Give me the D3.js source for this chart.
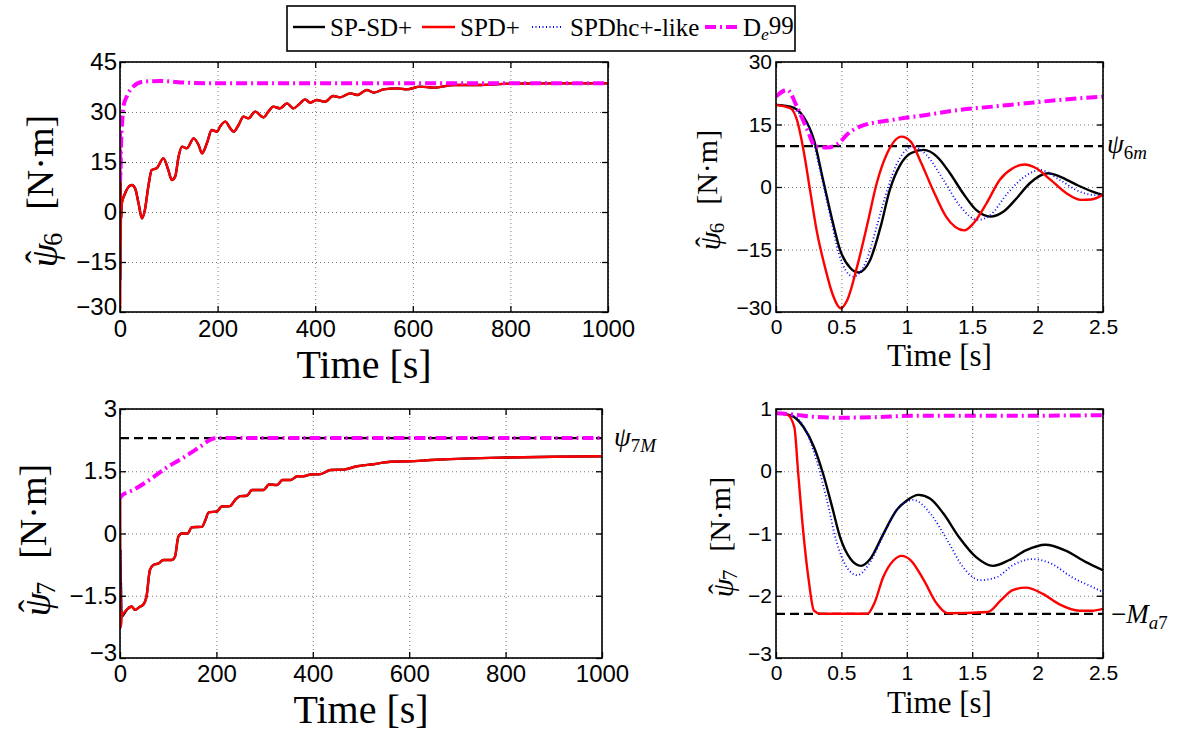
<!DOCTYPE html>
<html>
<head>
<meta charset="utf-8">
<script src="https://cdn.jsdelivr.net/npm/d3@7"></script>
<style>
  body { margin: 0; background: #fff; }
  svg { display: block; }
</style>
</head>
<body>
<div id="chart"></div>
<script>
// DATA ------------------------------------
// [time, value] pairs

// psi6, short window (0..2.5 s)
const psi6ShortBlack = [[0,19.7],[0.11,19.3],[0.21,16.9],[0.29,11.3],[0.36,1.7],[0.43,-7.9],[0.49,-15.1],[0.57,-19.5],[0.63,-20.5],[0.72,-17.5],[0.8,-9.5],[0.87,-0.7],[0.95,5.3],[1.03,8.1],[1.13,8.9],[1.23,7.3],[1.33,3.3],[1.43,-1.5],[1.53,-5.5],[1.64,-7.1],[1.74,-5.9],[1.84,-2.7],[1.94,0.9],[2.08,3.3],[2.17,2.5],[2.3,0.5],[2.42,-1.1],[2.5,-1.9]];
const psi6ShortRed = [[0,19.7],[0.11,18.9],[0.16,16.1],[0.21,8.9],[0.26,-0.7],[0.31,-10.3],[0.38,-19.9],[0.43,-25.5],[0.495,-29.1],[0.545,-27.1],[0.62,-19.1],[0.7,-8.7],[0.77,0.9],[0.85,8.1],[0.96,12.1],[1.03,10.9],[1.1,6.5],[1.2,-0.7],[1.3,-7.1],[1.44,-10.4],[1.51,-8.7],[1.61,-3.9],[1.71,1.7],[1.81,4.5],[1.9,5.4],[1.99,4.5],[2.1,1.7],[2.22,-1.5],[2.33,-3.1],[2.41,-3.0],[2.5,-1.9]];
const psi6ShortBlue = [[0,19.7],[0.11,19],[0.26,13.7],[0.33,4.9],[0.41,-6.3],[0.48,-15.9],[0.59,-21.5],[0.69,-17.8],[0.77,-9.5],[0.85,-0.7],[0.92,5.3],[1.05,9.7],[1.15,7.7],[1.28,1.7],[1.41,-4.7],[1.54,-7.9],[1.64,-6.7],[1.77,-1.5],[1.92,2.9],[2.02,4.1],[2.17,1.7],[2.32,-1.1],[2.42,-1.9],[2.5,-2]];
const psi6ShortMag = [[0,21.7],[0.085,23.3],[0.16,19.3],[0.24,13.7],[0.3,9.8],[0.39,9.5],[0.48,10.5],[0.54,12.5],[0.64,14.5],[0.89,16.1],[1.15,17.3],[1.4,18.5],[1.66,19.3],[1.91,20.1],[2.17,20.9],[2.5,21.7]];

// psi6, long run (0..1000 s): slow part shared by the three controllers
const psi6Slow = [[3.5,2.5],[9,5.1],[24,8.1],[31,7.1],[38,2.6],[45,-1.9],[51,0.6],[58,7.6],[65,12.6],[75,13.1],[89,16.1],[99,12.6],[106,9.6],[113,10.6],[120,16.6],[127,19.6],[137,19.1],[151,22.1],[161,20.1],[168,17.6],[178,20.6],[188,24.6],[199,24.1],[205,25.6],[216,27.1],[226,25.1],[233,24.1],[243,26.1],[253,28.6],[263,28.1],[277,30.1],[294,28.4],[304,30.1],[314,31.6],[328,31.1],[342,32.6],[355,31.1],[369,32.6],[379,33.8],[390,32.8],[403,33.6],[420,33.1],[437,34.8],[451,34.4],[472,35.6],[486,35.1],[506,36.6],[520,35.8],[540,36.8],[568,37.1],[588,36.8],[615,37.6],[643,37.3],[684,38.1],[732,38.1],[800,38.5],[889,38.6],[1000,38.6]];
const psi6LongMag = [[0,21.7],[0.085,23.3],[0.39,9.5],[2.5,21.7],[4,26],[7,31.6],[15,35],[27,37.6],[48,39.1],[82,39.3],[137,38.8],[200,38.6],[400,38.6],[1000,38.6]];
const psi6m = 9.8;

// psi7, short window (0..2.5 s)
const psi7ShortBlack = [[0,0.93],[0.11,0.9],[0.21,0.71],[0.29,0.39],[0.36,-0.04],[0.43,-0.58],[0.49,-1.06],[0.57,-1.41],[0.65,-1.52],[0.72,-1.41],[0.82,-1.01],[0.92,-0.63],[1.0,-0.47],[1.09,-0.38],[1.18,-0.44],[1.28,-0.68],[1.4,-1.06],[1.53,-1.38],[1.66,-1.52],[1.78,-1.43],[1.91,-1.27],[2.06,-1.18],[2.21,-1.27],[2.37,-1.46],[2.5,-1.59]];
const psi7ShortBlue = [[0,0.93],[0.14,0.88],[0.24,0.6],[0.31,0.17],[0.39,-0.47],[0.46,-1.11],[0.54,-1.54],[0.62,-1.67],[0.72,-1.46],[0.82,-1.03],[0.92,-0.63],[1.05,-0.46],[1.18,-0.68],[1.31,-1.11],[1.43,-1.54],[1.56,-1.75],[1.69,-1.7],[1.81,-1.51],[1.96,-1.41],[2.11,-1.49],[2.26,-1.7],[2.42,-1.86],[2.5,-1.94]];
const psi7ShortRed = [[0,0.93],[0.085,0.91],[0.14,0.71],[0.17,-0.04],[0.21,-1.01],[0.25,-1.75],[0.29,-2.24],[0.34,-2.29],[0.7,-2.29],[0.75,-2.13],[0.82,-1.7],[0.9,-1.43],[0.96,-1.36],[1.03,-1.43],[1.13,-1.75],[1.23,-2.13],[1.31,-2.28],[1.62,-2.26],[1.72,-2.07],[1.81,-1.91],[1.91,-1.87],[2.04,-1.97],[2.16,-2.13],[2.32,-2.24],[2.42,-2.24],[2.5,-2.21]];
const psi7ShortMag = [[0,0.93],[0.14,0.91],[0.26,0.88],[0.46,0.86],[0.77,0.87],[1.03,0.89],[1.66,0.89],[2.5,0.9]];

// psi7, long run (0..1000 s)
const psi7Slow = [[3.5,-2.0],[14,-1.84],[24,-1.76],[31,-1.84],[42,-1.76],[48,-1.72],[55,-1.52],[62,-0.88],[69,-0.76],[80,-0.72],[90,-0.64],[107,-0.64],[114,-0.56],[121,-0.08],[128,0],[140,0.0],[149,0.15],[170,0.16],[177,0.32],[184,0.51],[201,0.53],[211,0.65],[228,0.66],[239,0.81],[249,0.9],[263,0.91],[274,1.05],[298,1.05],[309,1.18],[326,1.17],[337,1.29],[354,1.29],[368,1.38],[381,1.38],[395,1.42],[416,1.43],[437,1.53],[464,1.54],[492,1.62],[526,1.67],[561,1.73],[601,1.74],[645,1.77],[728,1.81],[800,1.83],[901,1.85],[1000,1.86]];
const psi7LongMag = [[0,0.93],[0.5,0.86],[2.5,0.9],[28,1.05],[62,1.3],[97,1.59],[132,1.83],[166,2.09],[194,2.29],[205,2.3],[1000,2.3]];
const psi7M = 2.3;
const Ma7 = 2.29;

// ticks
const longTimeTicks = [0, 200, 400, 600, 800, 1000];
const shortTimeTicks = [0, 0.5, 1, 1.5, 2, 2.5];
const psi6LongTicks = [-30, -15, 0, 15, 30, 45];
const psi6ShortTicks = [-30, -15, 0, 15, 30];
const psi7LongTicks = [-3, -1.5, 0, 1.5, 3];
const psi7ShortTicks = [-3, -2, -1, 0, 1];

const legendNames = ["SP-SD+", "SPD+", "SPDhc+-like", "De99"];

// STYLES ----------------------------------
const styles = {
  black: {stroke: "#000", width: 2.4, dash: null},
  red: {stroke: "#ff0000", width: 2.4, dash: null},
  blue: {stroke: "#0000ff", width: 1.8, dash: "1,2.5"},
  mag: {stroke: "#ff00ff", width: 4, dash: "11,4,2,4"}
};
const serif = "'Liberation Serif', 'Times New Roman', serif";
const sans = "'Liberation Sans', Arial, sans-serif";
const fmt = d3.format("~g");

const svg = d3.select('#chart').append('svg')
  .attr('width', 1189)
  .attr('height', 736);

let clipId = 0;

// PANEL -----------------------------------
function drawPanel(p) {
  const g = svg.append('g');
  const x = d3.scaleLinear().domain(p.xDomain).range([p.left, p.right]);
  const y = d3.scaleLinear().domain(p.yDomain).range([p.bottom, p.top]);
  const w = p.right - p.left, h = p.bottom - p.top;

  g.append('rect')
    .attr('x', p.left).attr('y', p.top).attr('width', w).attr('height', h)
    .attr('fill', '#fff');

  // grid
  const gridX = g.append('g')
    .attr('transform', `translate(0,${p.bottom})`)
    .call(d3.axisBottom(x).tickValues(p.xTicks).tickSize(-h).tickFormat(''));
  const gridY = g.append('g')
    .attr('transform', `translate(${p.left},0)`)
    .call(d3.axisLeft(y).tickValues(p.yTicks).tickSize(-w).tickFormat(''));
  [gridX, gridY].forEach(a => {
    a.select('.domain').remove();
    a.selectAll('line')
      .attr('stroke', '#777')
      .attr('stroke-width', 1)
      .attr('stroke-dasharray', '1,3');
  });

  // curves
  const id = 'clip' + (clipId++);
  svg.append('clipPath').attr('id', id)
    .append('rect').attr('x', p.left).attr('y', p.top).attr('width', w).attr('height', h);
  const plot = g.append('g').attr('clip-path', `url(#${id})`);

  const line = d3.line()
    .x(d => x(d[0]))
    .y(d => y(d[1]))
    .curve(d3.curveMonotoneX);

  (p.refs || []).forEach(v => {
    plot.append('path')
      .datum([[p.xDomain[0], v], [p.xDomain[1], v]])
      .attr('d', d3.line().x(d => x(d[0])).y(d => y(d[1])))
      .attr('fill', 'none')
      .attr('stroke', '#000')
      .attr('stroke-width', 2.2)
      .attr('stroke-dasharray', '9,5');
  });

  p.series.forEach(s => {
    const st = styles[s.style];
    plot.append('path')
      .datum(s.data)
      .attr('d', line)
      .attr('fill', 'none')
      .attr('stroke', st.stroke)
      .attr('stroke-width', st.width)
      .attr('stroke-dasharray', st.dash);
  });

  // inner ticks on all four sides
  const tickAxes = [
    [d3.axisBottom(x).tickValues(p.xTicks), `translate(0,${p.bottom})`],
    [d3.axisTop(x).tickValues(p.xTicks), `translate(0,${p.top})`],
    [d3.axisLeft(y).tickValues(p.yTicks), `translate(${p.left},0)`],
    [d3.axisRight(y).tickValues(p.yTicks), `translate(${p.right},0)`]
  ];
  tickAxes.forEach(([ax, tr]) => {
    const a = g.append('g').attr('transform', tr)
      .call(ax.tickSize(-6).tickFormat(''));
    a.select('.domain').remove();
    a.selectAll('line').attr('stroke', '#000').attr('stroke-width', 1.3);
  });

  // tick labels
  const xl = g.append('g').attr('transform', `translate(0,${p.bottom})`)
    .call(d3.axisBottom(x).tickValues(p.xTicks).tickFormat(fmt).tickSize(0).tickPadding(p.xPad));
  const yl = g.append('g').attr('transform', `translate(${p.left},0)`)
    .call(d3.axisLeft(y).tickValues(p.yTicks).tickFormat(fmt).tickSize(0).tickPadding(p.yPad));
  [xl, yl].forEach(a => {
    a.select('.domain').remove();
    a.attr('font-family', sans).attr('font-size', p.tickSize);
    a.selectAll('text').attr('fill', '#000');
  });
  // lowest y label sits a little higher, as in the original
  yl.selectAll('text').filter(d => d === p.yDomain[0]).attr('dy', '0.1em');

  // frame
  g.append('rect')
    .attr('x', p.left).attr('y', p.top).attr('width', w).attr('height', h)
    .attr('fill', 'none').attr('stroke', '#000').attr('stroke-width', 1.6);

  // x title
  g.append('text')
    .attr('x', (p.left + p.right) / 2)
    .attr('y', p.xTitleY)
    .attr('text-anchor', 'middle')
    .style('font-family', serif)
    .style('font-size', p.xTitleSize + 'px')
    .text('Time [s]');

  // y title (rotated), hat drawn as its own glyph above psi
  const yt = g.append('text')
    .attr('transform', `translate(${p.yTitleX},${p.yTitleY}) rotate(-90)`)
    .attr('text-anchor', 'middle')
    .style('font-family', serif)
    .style('font-size', p.yTitleSize + 'px');
  yt.append('tspan').style('font-style', 'italic').text('\u03C8');
  yt.append('tspan').attr('dx', '-0.52em').attr('dy', '-0.12em').text('\u02C6');
  yt.append('tspan').attr('dx', '0.18em').attr('dy', '0.37em').style('font-size', '0.7em').text(p.sub);
  yt.append('tspan').attr('dy', '-0.25em').attr('dx', '0.6em').text('[N\u00B7m]');

  return {x, y};
}

// PANELS ----------------------------------
const longBlack6 = [[0,19.7],[0.63,-20.5],[1.13,8.9],[1.64,-7.1],[2.08,3.3],[2.5,-1.9]].concat(psi6Slow);
const longRed6 = [[0,19.7],[0.495,-29.1],[0.96,12.1],[1.44,-10.4],[1.9,5.4],[2.5,-1.9]].concat(psi6Slow);
const longBlack7 = [[0,0.93],[0.65,-1.52],[1.09,-0.38],[1.66,-1.52],[2.06,-1.18],[2.5,-1.59]].concat(psi7Slow);
const longRed7 = [[0,0.93],[0.3,-2.29],[0.96,-1.36],[1.5,-2.28],[1.91,-1.87],[2.5,-2.21]].concat(psi7Slow);

drawPanel({
  left: 120, right: 608, top: 62, bottom: 312,
  xDomain: [0, 1000], yDomain: [-30, 45],
  xTicks: longTimeTicks, yTicks: psi6LongTicks,
  tickSize: 24, xPad: 8, yPad: 3,
  xTitleY: 378, xTitleSize: 40,
  yTitleX: 57, yTitleY: 191, yTitleSize: 38, sub: '6',
  series: [
    {style: 'black', data: longBlack6},
    {style: 'blue', data: longBlack6},
    {style: 'red', data: longRed6},
    {style: 'mag', data: psi6LongMag}
  ]
});

drawPanel({
  left: 776, right: 1103, top: 62, bottom: 312,
  xDomain: [0, 2.5], yDomain: [-30, 30],
  xTicks: shortTimeTicks, yTicks: psi6ShortTicks,
  tickSize: 21, xPad: 7, yPad: 4,
  xTitleY: 366, xTitleSize: 31,
  yTitleX: 720, yTitleY: 190, yTitleSize: 30, sub: '6',
  refs: [psi6m],
  series: [
    {style: 'black', data: psi6ShortBlack},
    {style: 'blue', data: psi6ShortBlue},
    {style: 'red', data: psi6ShortRed},
    {style: 'mag', data: psi6ShortMag}
  ]
});

drawPanel({
  left: 120, right: 602, top: 409, bottom: 658,
  xDomain: [0, 1000], yDomain: [-3, 3],
  xTicks: longTimeTicks, yTicks: psi7LongTicks,
  tickSize: 24, xPad: 7, yPad: 3,
  xTitleY: 723, xTitleSize: 40,
  yTitleX: 50, yTitleY: 540, yTitleSize: 38, sub: '7',
  refs: [psi7M],
  series: [
    {style: 'black', data: longBlack7},
    {style: 'blue', data: longBlack7},
    {style: 'red', data: longRed7},
    {style: 'mag', data: psi7LongMag}
  ]
});

drawPanel({
  left: 776, right: 1103, top: 409, bottom: 658,
  xDomain: [0, 2.5], yDomain: [-3, 1],
  xTicks: shortTimeTicks, yTicks: psi7ShortTicks,
  tickSize: 21, xPad: 7, yPad: 4,
  xTitleY: 713, xTitleSize: 31,
  yTitleX: 733, yTitleY: 537, yTitleSize: 30, sub: '7',
  refs: [-Ma7],
  series: [
    {style: 'black', data: psi7ShortBlack},
    {style: 'blue', data: psi7ShortBlue},
    {style: 'red', data: psi7ShortRed},
    {style: 'mag', data: psi7ShortMag}
  ]
});

// ANNOTATIONS -----------------------------
function note(xp, yp, parts) {
  const t = svg.append('text')
    .attr('x', xp).attr('y', yp)
    .style('font-family', serif)
    .style('font-size', '27px');
  parts.forEach(pt => {
    const s = t.append('tspan').text(pt.t);
    if (pt.i) s.style('font-style', 'italic');
    if (pt.dy) s.attr('dy', pt.dy);
    if (pt.sub) s.style('font-size', '0.7em');
  });
}
note(1107, 153, [{t: '\u03C8', i: true}, {t: '6', sub: true, dy: '0.3em'}, {t: 'm', sub: true, i: true}]);
note(614, 446, [{t: '\u03C8', i: true}, {t: '7', sub: true, dy: '0.3em'}, {t: 'M', sub: true, i: true}]);
note(1111, 623, [{t: '\u2212'}, {t: 'M', i: true}, {t: 'a', sub: true, i: true, dy: '0.3em'}, {t: '7', sub: true}]);

// LEGEND ----------------------------------
const legend = svg.append('g');
legend.append('rect')
  .attr('x', 287).attr('y', 6).attr('width', 508).attr('height', 45)
  .attr('fill', '#fff').attr('stroke', '#000').attr('stroke-width', 1.6);
const legendItems = [
  {style: 'black', x0: 293, x1: 325, tx: 330},
  {style: 'red', x0: 422, x1: 455, tx: 460},
  {style: 'blue', x0: 532, x1: 562, tx: 570},
  {style: 'mag', x0: 705, x1: 738, tx: 743}
];
legendItems.forEach((it, i) => {
  const st = styles[it.style];
  legend.append('line')
    .attr('x1', it.x0).attr('x2', it.x1).attr('y1', 27).attr('y2', 27)
    .attr('stroke', st.stroke).attr('stroke-width', st.width)
    .attr('stroke-dasharray', st.dash);
  const t = legend.append('text')
    .attr('x', it.tx).attr('y', 36)
    .style('font-family', serif)
    .style('font-size', '25px');
  if (legendNames[i] === 'De99') {
    t.append('tspan').text('D');
    t.append('tspan').attr('dy', '0.25em').style('font-size', '0.7em').style('font-style', 'italic').text('e');
    t.append('tspan').attr('dy', '-0.25em').text('99');
  } else {
    t.text(legendNames[i]);
  }
});
</script>
</body>
</html>
